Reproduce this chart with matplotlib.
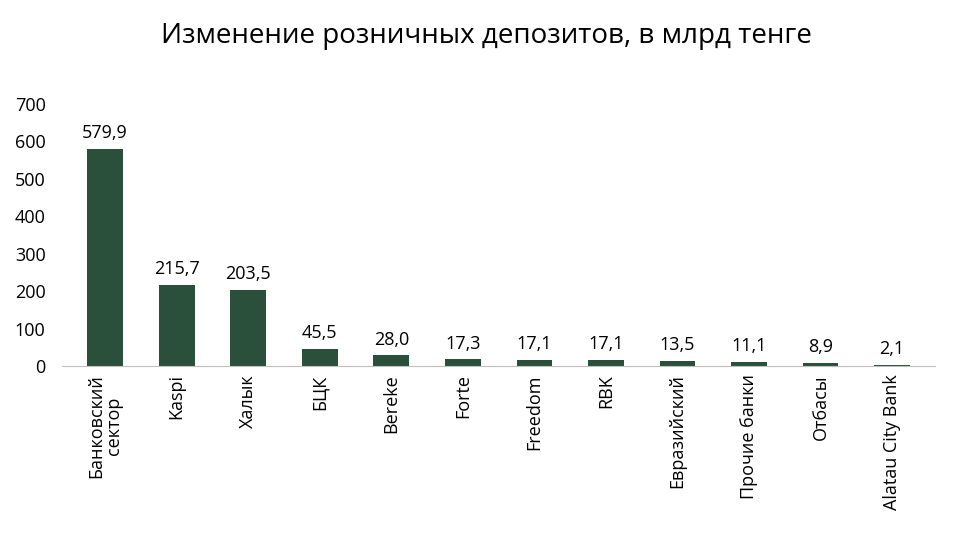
import matplotlib
matplotlib.use("Agg")
import matplotlib.pyplot as plt

categories = ["Банковский\nсектор", "Kaspi", "Халык", "БЦК", "Bereke", "Forte", "Freedom", "RBK",
              "Евразийский", "Прочие банки", "Отбасы", "Alatau City Bank"]
values = [579.9, 215.7, 203.5, 45.5, 28.0, 17.3, 17.1, 17.1, 13.5, 11.1, 8.9, 2.1]
yticks = [0, 100, 200, 300, 400, 500, 600, 700]

plt.rcParams["font.family"] = "Open Sans"
fig = plt.figure(figsize=(9.72, 5.47), dpi=100)
ax = fig.add_axes([0.064, 0.331, 0.898, 0.479])
x = range(len(categories))
ax.bar(x, values, width=0.5, color="#2a4f3a")
for i, v in zip(x, values):
    ax.text(i, v + 18, f"{v:.1f}".replace(".", ","), ha="center", va="bottom", fontsize=13)
ax.set_ylim(0, 700)
ax.set_xlim(-0.6, len(categories) - 0.4)
ax.set_yticks(yticks)
ax.set_yticklabels([str(t) for t in yticks], fontsize=13)
ax.set_xticks(list(x))
ax.set_xticklabels(categories, rotation=90, fontsize=13, linespacing=1.0)
for s in ["top", "right", "left"]:
    ax.spines[s].set_visible(False)
ax.spines["bottom"].set_color("#bfbfbf")
ax.tick_params(axis="y", length=0, pad=12)
ax.tick_params(axis="x", length=0, pad=6)
fig.text(0.5, 0.935, "Изменение розничных депозитов, в млрд тенге", ha="center", va="center", fontsize=20)
fig.savefig("out.png", dpi=100)
